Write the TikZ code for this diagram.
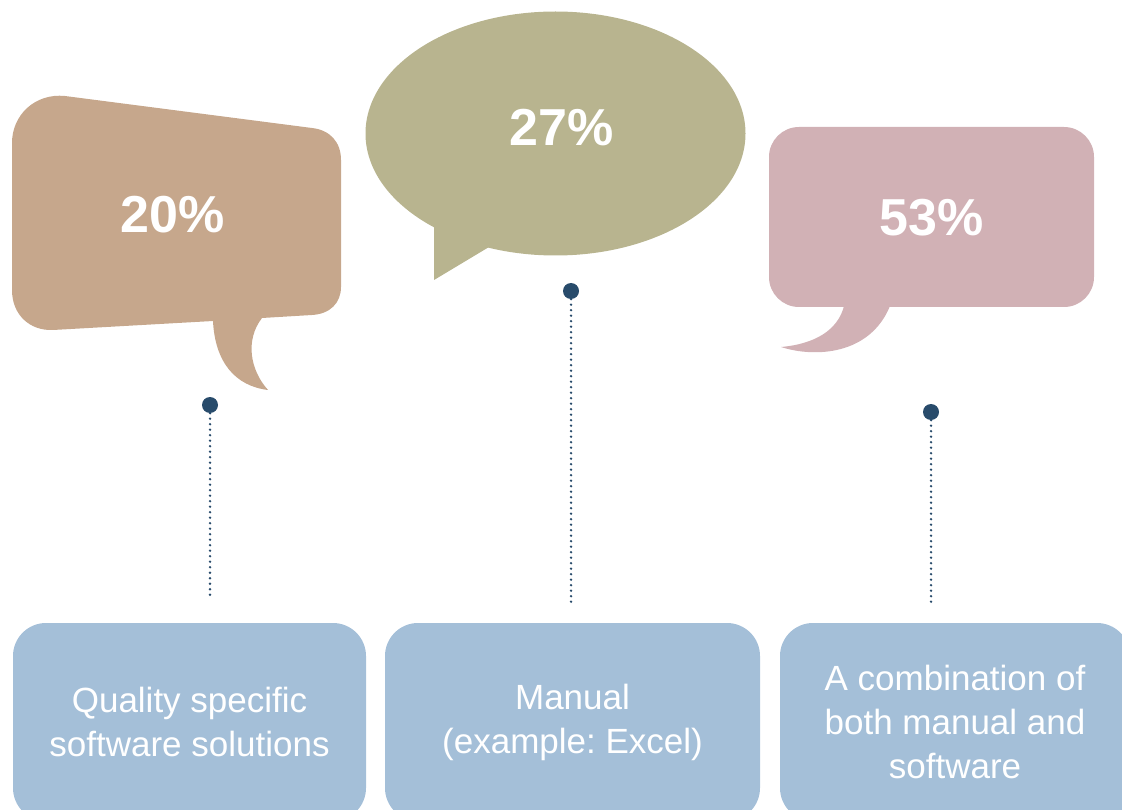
\documentclass[tikz,border=0pt]{standalone}
\usepackage{fontspec}
\setmainfont{Liberation Sans}
\frenchspacing
\definecolor{tanA}{HTML}{C6A78C}
\definecolor{oliveB}{HTML}{B8B48F}
\definecolor{roseC}{HTML}{D1B1B5}
\definecolor{boxblue}{HTML}{A4BFD8}
\definecolor{pinblue}{HTML}{284B6B}
\begin{document}
\begin{tikzpicture}[x=1pt,y=-1pt,line join=round,line cap=round,
	pct/.style={text=white,font=\bfseries\fontsize{52}{52}\selectfont},
	lbl/.style={fill=boxblue,rounded corners=33,text=white,align=center,inner sep=0pt,
		minimum height=198,font=\fontsize{35}{44}\selectfont},
	pin/.style={circle,fill=pinblue,inner sep=0pt,minimum size=16},
	link/.style={pinblue,line width=2.6pt,dash pattern=on 0pt off 5.5pt}]
		\useasboundingbox (0,0) rectangle (1122,810);
		\clip (0,0) rectangle (1122,810);
		% left bubble
		\fill[tanA] (12,143) .. controls (12,115) and (35,93) .. (65,96) -- (312,128)
		.. controls (330,130) and (341,142) .. (341,160) -- (341,287)
		.. controls (341,303) and (330,314) .. (312,315) -- (262,318)
		.. controls (245,340) and (250,370) .. (268,390)
		.. controls (235,386) and (215,362) .. (213,321) -- (53,330)
		.. controls (30,331) and (12,315) .. (12,290) -- cycle;
		% middle bubble
		\fill[oliveB] (555.5,133.5) ellipse [x radius=190,y radius=122];
		\fill[oliveB] (434,215) -- (434,280) -- (489,247) -- (489,230) -- cycle;
		% right bubble
		\fill[roseC,rounded corners=30] (769,127) rectangle (1094,307);
		\fill[roseC] (844,306) .. controls (838,330) and (815,344) .. (781,347)
		.. controls (815,358) and (870,355) .. (890,306) -- cycle;
		\node[pct] (pa) at (173,215) {20\%};
		\node[pct] (pb) at (562,128) {27\%};
		\node[pct] (pc) at (932,218) {53\%};
		% pins and dotted links
		\node[pin] (da) at (210,405) {};
		\node[pin] (db) at (571,291) {};
		\node[pin] (dc) at (931,412) {};
		\coordinate (ea) at (210,598);
		\coordinate (eb) at (571,602);
		\coordinate (ec) at (931,605);
		\draw[link] (da) -- (ea);
		\draw[link] (db) -- (eb);
		\draw[link] (dc) -- (ec);
		% answer boxes
		\node[lbl,minimum width=353] (la) at (189.5,722) {Quality specific\\software solutions};
		\node[lbl,minimum width=375] (lb) at (572.5,722) {Manual\\(example: Excel)};
		\node[lbl,minimum width=350] (lc) at (955,722) {A combination of\\both manual and\\software};
\end{tikzpicture}
\end{document}
